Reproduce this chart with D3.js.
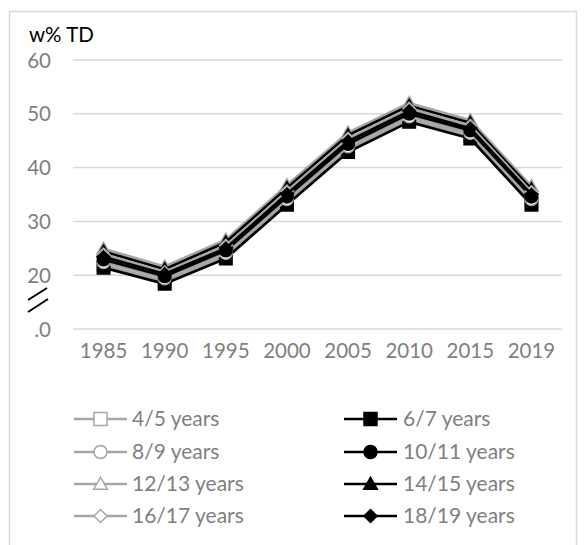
<!DOCTYPE html>
<html>
<head>
<meta charset="utf-8">
<script src="https://cdn.jsdelivr.net/npm/d3@7"></script>
<style>
  html, body { margin: 0; padding: 0; background: #fff; }
  svg { display: block; font-family: Lato, "Open Sans", sans-serif; }
</style>
</head>
<body>
<svg id="chart" width="585" height="545"></svg>
<script>
// Survey years on the x axis
const years = ["1985", "1990", "1995", "2000", "2005", "2010", "2015", "2019"];

// Y ticks; the lowest one sits below the axis break and is labelled ".0"
const yTicks = [10, 20, 30, 40, 50, 60];
const yTickLabels = [".0", "20", "30", "40", "50", "60"];

// Series names, in legend order (left column then right column per row)
const seriesNames = ["4/5 years", "6/7 years", "8/9 years", "10/11 years",
                     "12/13 years", "14/15 years", "16/17 years", "18/19 years"];

// w% TD per age group
const age4_5   = [21.9, 18.9, 23.6, 33.6, 43.4, 49.0, 45.9, 33.6];
const age6_7   = [21.4, 18.4, 23.1, 33.1, 42.9, 48.5, 45.4, 33.1];
const age8_9   = [22.4, 19.4, 24.1, 34.1, 43.9, 49.5, 46.4, 34.1];
const age10_11 = [22.9, 19.8, 24.6, 34.6, 44.4, 50.0, 46.9, 34.6];
const age12_13 = [24.9, 21.6, 26.6, 36.7, 46.5, 52.0, 48.8, 36.5];
const age14_15 = [24.4, 21.1, 26.1, 36.2, 46.0, 51.5, 48.3, 36.0];
const age16_17 = [23.9, 20.6, 25.5, 35.6, 45.4, 51.0, 47.8, 35.5];
const age18_19 = [23.4, 20.2, 25.0, 35.1, 44.9, 50.5, 47.3, 35.0];

const seriesValues = [age4_5, age6_7, age8_9, age10_11, age12_13, age14_15, age16_17, age18_19];
const seriesShapes = ["square", "square", "circle", "circle", "triangle", "triangle", "diamond", "diamond"];

const GRAY = "#a6a6a6";
const BLACK = "#000000";
const TEXT = "#7f7f7f";

const svg = d3.select("#chart");

// Chart frame
svg.append("rect")
  .attr("x", 9.5).attr("y", 11.5)
  .attr("width", 567).attr("height", 560)
  .attr("fill", "none").attr("stroke", "#d9d9d9").attr("stroke-width", 1.5);

const plot = { left: 73, right: 562, top: 60, bottom: 329 };

const x = d3.scaleBand().domain(years).range([plot.left, plot.right]);
const y = d3.scaleLinear().domain([10, 60]).range([plot.bottom, plot.top]);

// Horizontal gridlines
svg.append("g").selectAll("line").data(yTicks).join("line")
  .attr("x1", plot.left).attr("x2", plot.right)
  .attr("y1", d => y(d)).attr("y2", d => y(d))
  .attr("stroke", "#d9d9d9").attr("stroke-width", 1.5);

// Y axis labels
const yAxis = d3.axisLeft(y).tickValues(yTicks)
  .tickFormat((d, i) => yTickLabels[i]).tickSize(0).tickPadding(0);
const gy = svg.append("g").attr("transform", `translate(${plot.left - 22},0)`).call(yAxis);
gy.select(".domain").remove();
gy.selectAll("text").attr("fill", TEXT).attr("font-size", 20.5)
  .attr("font-family", "Lato, sans-serif").attr("dy", "0.35em");

// X axis labels
const xAxis = d3.axisBottom(x).tickSize(0).tickPadding(0);
const gx = svg.append("g").attr("transform", `translate(0,${plot.bottom + 14})`).call(xAxis);
gx.select(".domain").remove();
gx.selectAll("text").attr("fill", TEXT).attr("font-size", 20.5)
  .attr("font-family", "Lato, sans-serif").attr("dy", "0.71em");

// Axis break marks between ".0" and "20"
const brk = svg.append("g").attr("stroke", BLACK).attr("stroke-width", 2);
brk.append("line").attr("x1", 28).attr("y1", 300).attr("x2", 47).attr("y2", 288);
brk.append("line").attr("x1", 28).attr("y1", 312).attr("x2", 48).attr("y2", 299);

// Y axis title
svg.append("text").attr("x", 29).attr("y", 42)
  .attr("font-size", 20.5).attr("fill", "#000")
  .attr("font-family", "Lato, sans-serif").text("w% TD");

function markerPath(shape, size) {
  const s = size / 2;
  if (shape === "square") return `M${-s},${-s}H${s}V${s}H${-s}Z`;
  if (shape === "circle") return d3.symbol(d3.symbolCircle, Math.PI * s * s)();
  if (shape === "triangle") return `M0,${-s * 1.05}L${s * 1.05},${s * 0.8}L${-s * 1.05},${s * 0.8}Z`;
  return `M0,${-s}L${s},0L0,${s}L${-s},0Z`;
}

const line = d3.line()
  .x((d, i) => x(years[i]) + x.bandwidth() / 2)
  .y(d => y(d));

// Draw series: odd ages in gray with hollow markers, even ages in black with filled markers
seriesValues.forEach((vals, si) => {
  const isGray = si % 2 === 0;
  const col = isGray ? GRAY : BLACK;
  const g = svg.append("g");
  g.append("path").datum(vals).attr("d", line)
    .attr("fill", "none").attr("stroke", col).attr("stroke-width", 2.75)
    .attr("stroke-linejoin", "round");
  g.selectAll("path.m").data(vals).join("path").attr("class", "m")
    .attr("transform", (d, i) => `translate(${x(years[i]) + x.bandwidth() / 2},${y(d)})`)
    .attr("d", markerPath(seriesShapes[si], 12.5))
    .attr("fill", isGray ? "#fff" : BLACK)
    .attr("stroke", col).attr("stroke-width", 1.5);
});

// Legend: two columns, four rows
const legendRows = [419, 452, 484, 516];
const legendCols = [{ x0: 74, x1: 127, tx: 132 }, { x0: 344, x1: 397, tx: 403 }];
seriesNames.forEach((name, si) => {
  const col = legendCols[si % 2];
  const ry = legendRows[Math.floor(si / 2)];
  const isGray = si % 2 === 0;
  const c = isGray ? GRAY : BLACK;
  const g = svg.append("g");
  g.append("line").attr("x1", col.x0).attr("x2", col.x1).attr("y1", ry).attr("y2", ry)
    .attr("stroke", c).attr("stroke-width", 2.5);
  g.append("path")
    .attr("transform", `translate(${(col.x0 + col.x1) / 2},${ry})`)
    .attr("d", markerPath(seriesShapes[si], 13))
    .attr("fill", isGray ? "#fff" : BLACK)
    .attr("stroke", c).attr("stroke-width", 1.5);
  g.append("text").attr("x", col.tx).attr("y", ry).attr("dy", "0.35em")
    .attr("font-size", 21).attr("fill", TEXT)
    .attr("font-family", "Lato, sans-serif").text(name);
});
</script>
</body>
</html>
